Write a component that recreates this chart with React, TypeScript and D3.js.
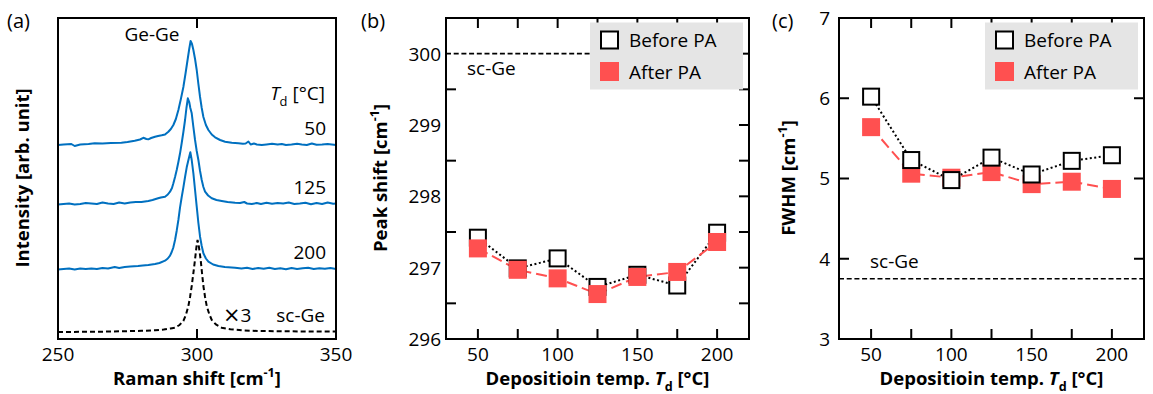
import React, { useEffect, useRef } from 'react';
import * as d3 from 'd3';

// panel (a): Raman spectra, [shift cm-1, intensity above its own baseline]
const spec50 = [
  [250, 0], [252, 0.05], [254.8, 0.1], [256, -0.1], [258, 0.05], [261, 0.1], [263.2, 0.17], [266, 0.15],
  [269, 0.2], [272.8, 0.23], [275, 0.3], [277.6, 0.43], [279.5, 0.55], [280.7, 0.72], [281.8, 0.6],
  [282.5, 0.57], [283.5, 0.7], [284.9, 0.83], [286, 0.9], [287.3, 0.97], [288.5, 1.05], [289.7, 1.33],
  [290.6, 1.6], [291.5, 2.0], [292.4, 2.6], [293.3, 3.5], [294.2, 4.6], [295.1, 5.8], [295.9, 7.2],
  [296.6, 8.5], [297.2, 9.6], [297.7, 10.4], [298.2, 10.1], [298.7, 9.5], [299.3, 8.6], [299.9, 7.5],
  [300.5, 6.1], [301.1, 4.8], [301.7, 3.7], [302.3, 2.8], [303.2, 2.0], [304.1, 1.5], [305.3, 1.05],
  [306.5, 0.77], [308.3, 0.5], [310.1, 0.33], [312.5, 0.22], [314.9, 0.17], [316.5, 0.12], [317.5, 0.15],
  [318.5, 0.35], [319.3, 0.05], [320.5, 0.15], [321.5, 0.05], [323.3, 0], [325, 0.05], [327, 0.12],
  [329, 0.05], [330.5, 0.1], [332, 0], [334, 0.05], [336, 0.12], [337.7, 0.05], [339.5, 0],
  [341.3, 0.15], [343, 0.02], [345, 0.05], [347, 0.1], [350, 0],
];
const spec125 = [
  [250, -0.05], [252, 0], [254, 0.05], [256, -0.05], [258, 0], [260, 0.1], [262, 0.05], [264, 0],
  [266, 0.15], [268, 0.05], [270, 0], [272, 0.15], [274, 0.05], [276, 0.15], [278, 0.2], [280, 0.2],
  [282.5, 0.3], [284, 0.4], [286, 0.57], [287, 0.65], [288.5, 0.73], [289.5, 0.95], [290.3, 1.23],
  [291, 1.6], [291.5, 2.07], [292.1, 2.7], [292.7, 3.4], [293.3, 4.2], [293.9, 5.07], [294.5, 6.1],
  [295.1, 7.2], [295.7, 8.4], [296.2, 9.6], [296.7, 10.57], [297.2, 10.2], [297.6, 9.6], [298.1, 9.07],
  [298.7, 7.7], [299.3, 6.4], [299.9, 5.3], [300.5, 4.4], [301.1, 3.3], [301.7, 2.4], [302.3, 1.7],
  [302.9, 1.23], [304, 0.85], [305.3, 0.57], [307, 0.4], [308.9, 0.3], [311, 0.2], [313.7, 0.13],
  [315.5, 0.1], [317, 0.2], [318, 0.05], [319.7, 0], [321.5, 0.1], [323, 0], [325, 0.12], [327, 0.02],
  [329, 0.1], [331, 0.05], [333, 0.15], [335, 0], [337, 0.05], [339, 0.12], [341, -0.02], [343, 0.1],
  [345, 0], [347, 0.15], [349, 0.02], [350, 0.05],
];
const spec200 = [
  [250, -0.05], [252, 0], [254, 0.05], [256, -0.05], [258, 0.05], [260, 0], [262, 0.05], [264, 0],
  [266, 0.1], [268, 0.05], [270.4, 0.2], [272, 0.1], [274, 0.2], [276, 0.25], [278.8, 0.3], [280.5, 0.35],
  [282.5, 0.4], [284.9, 0.5], [286.5, 0.6], [288.5, 0.83], [289.5, 1.05], [290.3, 1.33], [290.9, 1.7],
  [291.5, 2.17], [292.1, 2.9], [292.7, 3.83], [293.3, 4.9], [293.9, 6.17], [294.5, 7.2], [295.1, 8.17],
  [295.7, 9.2], [296.3, 10.17], [297, 11.0], [297.6, 11.67], [298.1, 10.9], [298.7, 9.57], [299.3, 7.9],
  [299.9, 6.23], [300.5, 4.6], [301.1, 3.23], [301.7, 2.3], [302.3, 1.57], [303.2, 1.05], [304.1, 0.73],
  [305.8, 0.45], [307.7, 0.3], [310, 0.2], [313.7, 0.13], [316, 0.05], [318, 0.12], [320, 0], [322, 0.1],
  [324, 0.02], [326, 0.12], [328, 0], [330, 0.08], [332, -0.02], [334, 0.1], [336, 0], [338, 0.08],
  [340, 0.12], [342, 0], [344, 0.08], [346, 0.02], [348, 0.1], [350, 0],
];
const specScGe = [
  [250, 0], [260, 0.02], [265, 0.03], [272.9, 0.07], [280, 0.12], [284.9, 0.17], [288, 0.25], [290.5, 0.35],
  [292.1, 0.43], [293.7, 0.7], [295.1, 1.1], [296, 1.7], [296.9, 2.6], [297.5, 3.5], [298.1, 4.6],
  [298.7, 5.9], [299.3, 7.27], [299.8, 8.5], [300.2, 9.2], [300.7, 8.5], [301.3, 7.27], [301.8, 5.9],
  [302.3, 4.6], [302.9, 3.5], [303.5, 2.6], [304.4, 1.8], [305.3, 1.2], [306.8, 0.75], [308.9, 0.43],
  [312, 0.27], [316.1, 0.17], [322, 0.1], [333, 0.07], [340, 0.05], [350, 0.04],
];
const spectra = [spec50, spec125, spec200];
const spectraLabels = ['50', '125', '200'];
const spectraOffsets = [19.4, 13.5, 7.0];
const scGeOffset = 0.7;
const ramanTicks = [250, 300, 350];

// panels (b) and (c)
const temps = [50, 75, 100, 125, 150, 175, 200];
const tempTicks = [50, 75, 100, 125, 150, 175, 200];
const tempLabels = [50, 100, 150, 200];
const peakBefore = [297.42, 296.99, 297.13, 296.73, 296.9, 296.75, 297.49];
const peakAfter = [297.27, 296.97, 296.85, 296.63, 296.87, 296.94, 297.36];
const peakTicks = [296, 297, 298, 299, 300];
const peakMinor = [296.5, 297.5, 298.5, 299.5];
const fwhmBefore = [6.02, 5.23, 4.98, 5.26, 5.05, 5.22, 5.29];
const fwhmAfter = [5.64, 5.06, 5.01, 5.08, 4.93, 4.96, 4.87];
const fwhmTicks = [3, 4, 5, 6, 7];
const scGePeak = 300;
const scGeFwhm = 3.75;

const FONT = "'Open Sans', sans-serif";
const BLUE = '#0070c0';
const RED = '#ff5050';
const TICK = 10;

type Part = { t: string; it?: boolean; sub?: boolean; sup?: boolean; sym?: boolean };

function rich(sel: any, parts: Part[], size: number) {
  let shift = 0;
  parts.forEach(p => {
    const target = p.sub ? size * 0.3 : p.sup ? -size * 0.45 : 0;
    const ts = sel.append('tspan').text(p.t).attr('dy', target - shift);
    shift = target;
    if (p.sub || p.sup) ts.attr('font-size', size * 0.68);
    if (p.sym) ts.attr('font-family', "'DejaVu Sans', sans-serif").attr('font-size', size * 1.1);
    if (p.it) ts.attr('font-style', 'italic');
  });
}

const App = () => {
  const svgRef = useRef<SVGSVGElement>(null);

  useEffect(() => {
    const svg = d3.select(svgRef.current);
    svg.selectAll('*').remove();
    svg.attr('font-family', FONT);

    const top = 18, bottom = 339;
    const lblSize = 19, titleSize = 18.5;

    const frame = (x0: number, x1: number) =>
      svg.append('rect')
        .attr('x', x0).attr('y', top)
        .attr('width', x1 - x0).attr('height', bottom - top)
        .attr('fill', 'none').attr('stroke', '#000').attr('stroke-width', 2);

    const vTicks = (xs: number[], x: any) => {
      xs.forEach(v => {
        svg.append('line').attr('x1', x(v)).attr('x2', x(v)).attr('y1', top).attr('y2', top + TICK)
          .attr('stroke', '#000').attr('stroke-width', 2);
        svg.append('line').attr('x1', x(v)).attr('x2', x(v)).attr('y1', bottom).attr('y2', bottom - TICK)
          .attr('stroke', '#000').attr('stroke-width', 2);
      });
    };

    const hTick = (y: number, xFrom: number, dir: number) =>
      svg.append('line').attr('x1', xFrom).attr('x2', xFrom + dir * TICK).attr('y1', y).attr('y2', y)
        .attr('stroke', '#000').attr('stroke-width', 2);

    const xLabels = (vals: number[], x: any) =>
      vals.forEach(v => {
        svg.append('text').attr('x', x(v)).attr('y', 361).attr('text-anchor', 'middle')
          .attr('font-size', lblSize).text(v);
      });

    const xTitle = (cx: number, parts: Part[]) => {
      const t = svg.append('text').attr('x', cx).attr('y', 385).attr('text-anchor', 'middle')
        .attr('font-size', titleSize).attr('font-weight', 'bold');
      rich(t, parts, titleSize);
    };

    const yTitle = (cx: number, parts: Part[]) => {
      const t = svg.append('text').attr('transform', `translate(${cx},178) rotate(-90)`)
        .attr('text-anchor', 'middle').attr('font-size', titleSize).attr('font-weight', 'bold');
      rich(t, parts, titleSize);
    };

    const panelLabel = (x: number, s: string) =>
      svg.append('text').attr('x', x).attr('y', 28).attr('font-size', 20).text(s);

    const tempTitle: Part[] = [{ t: 'Depositioin temp. ' }, { t: 'T', it: true }, { t: 'd', sub: true }, { t: ' [°C]' }];

    // ---------- (a) ----------
    const xa = d3.scaleLinear().domain([250, 350]).range([58, 336]);
    const ya = d3.scaleLinear().domain([0, 32.1]).range([bottom, top]);
    const line = d3.line<number[]>().x(d => xa(d[0])).y(d => ya(d[1]));

    spectra.forEach((s, i) => {
      svg.append('path')
        .attr('d', line(s.map(p => [p[0], p[1] + spectraOffsets[i]])))
        .attr('fill', 'none').attr('stroke', BLUE).attr('stroke-width', 2)
        .attr('stroke-linejoin', 'round');
      svg.append('text').attr('x', 326).attr('y', ya(spectraOffsets[i]) - 10)
        .attr('text-anchor', 'end').attr('font-size', lblSize).text(spectraLabels[i]);
    });
    svg.append('path')
      .attr('d', line(specScGe.map(p => [p[0], p[1] + scGeOffset])))
      .attr('fill', 'none').attr('stroke', '#000').attr('stroke-width', 2)
      .attr('stroke-dasharray', '5,3');

    frame(58, 336);
    vTicks([300], xa);
    xLabels(ramanTicks, xa);
    xTitle(xa(300), [{ t: 'Raman shift [cm' }, { t: '-1', sup: true }, { t: ']' }]);
    yTitle(29, [{ t: 'Intensity [arb. unit]' }]);
    panelLabel(7, '(a)');

    svg.append('text').attr('x', xa(283.8)).attr('y', 41).attr('text-anchor', 'middle')
      .attr('font-size', lblSize).text('Ge-Ge');
    const td = svg.append('text').attr('x', 325).attr('y', 100).attr('text-anchor', 'end')
      .attr('font-size', lblSize);
    rich(td, [{ t: 'T', it: true }, { t: 'd', sub: true }, { t: ' [°C]' }], lblSize);
    const x3 = svg.append('text').attr('x', 223).attr('y', 322).attr('font-size', lblSize);
    rich(x3, [{ t: '×', sym: true }, { t: '3' }], lblSize);
    svg.append('text').attr('x', 325).attr('y', 322).attr('text-anchor', 'end')
      .attr('font-size', lblSize).text('sc-Ge');

    // ---------- (b) & (c) shared pieces ----------
    const legend = (right: number) => {
      const bx = right - 159, by = top + 4.5;
      svg.append('rect').attr('x', bx).attr('y', by).attr('width', 153).attr('height', 67)
        .attr('fill', '#e5e5e5');
      svg.append('rect').attr('x', bx + 11).attr('y', by + 9).attr('width', 17).attr('height', 17)
        .attr('fill', '#fff').attr('stroke', '#000').attr('stroke-width', 2);
      svg.append('rect').attr('x', bx + 10).attr('y', by + 39.5).attr('width', 19).attr('height', 19)
        .attr('fill', RED);
      svg.append('text').attr('x', bx + 39).attr('y', by + 24).attr('font-size', lblSize).text('Before PA');
      svg.append('text').attr('x', bx + 39).attr('y', by + 56).attr('font-size', lblSize).text('After PA');
    };

    const series = (x: any, y: any, vals: number[], kind: 'before' | 'after', mode: 'line' | 'marks') => {
      const pts = temps.map((t, i) => [x(t), y(vals[i])]);
      if (mode === 'line') {
        svg.append('path').attr('d', d3.line()(pts as [number, number][]))
          .attr('fill', 'none')
          .attr('stroke', kind === 'before' ? '#000' : RED)
          .attr('stroke-width', 2)
          .attr('stroke-dasharray', kind === 'before' ? '2,2.5' : '11,5');
      } else {
        const s = kind === 'before' ? 16 : 18;
        pts.forEach(p => {
          const r = svg.append('rect').attr('x', p[0] - s / 2).attr('y', p[1] - s / 2)
            .attr('width', s).attr('height', s);
          if (kind === 'before') r.attr('fill', '#fff').attr('stroke', '#000').attr('stroke-width', 2);
          else r.attr('fill', RED);
        });
      }
    };

    // ---------- (b) ----------
    const bL = 446, bR = 749;
    const xb = d3.scaleLinear().domain([30, 220]).range([bL, bR]);
    const yb = d3.scaleLinear().domain([296, 300.5]).range([bottom, top]);

    svg.append('line').attr('x1', bL).attr('x2', bR - 159).attr('y1', yb(scGePeak)).attr('y2', yb(scGePeak))
      .attr('stroke', '#000').attr('stroke-width', 1.6).attr('stroke-dasharray', '5,2.7');
    svg.append('text').attr('x', 467).attr('y', 75).attr('font-size', lblSize).text('sc-Ge');

    series(xb, yb, peakBefore, 'before', 'line');
    series(xb, yb, peakAfter, 'after', 'line');
    series(xb, yb, peakBefore, 'before', 'marks');
    series(xb, yb, peakAfter, 'after', 'marks');

    frame(bL, bR);
    vTicks(tempTicks, xb);
    peakMinor.forEach(v => hTick(yb(v), bL, 1));
    [...peakTicks, ...peakMinor].forEach(v => hTick(yb(v), bR, -1));
    legend(bR);
    xLabels(tempLabels, xb);
    peakTicks.forEach(v => {
      svg.append('text').attr('x', bL - 5).attr('y', yb(v)).attr('dy', '0.36em')
        .attr('text-anchor', 'end').attr('font-size', lblSize).text(v);
    });
    xTitle(xb(125), tempTitle);
    yTitle(387, [{ t: 'Peak shift [cm' }, { t: '-1', sup: true }, { t: ']' }]);
    panelLabel(361, '(b)');

    // ---------- (c) ----------
    const cL = 839, cR = 1144;
    const xc = d3.scaleLinear().domain([30, 220]).range([cL, cR]);
    const yc = d3.scaleLinear().domain([3, 7]).range([bottom, top]);

    svg.append('line').attr('x1', cL).attr('x2', cR).attr('y1', yc(scGeFwhm)).attr('y2', yc(scGeFwhm))
      .attr('stroke', '#000').attr('stroke-width', 1.6).attr('stroke-dasharray', '5,2.7');
    svg.append('text').attr('x', 870).attr('y', 268).attr('font-size', lblSize).text('sc-Ge');

    series(xc, yc, fwhmAfter, 'after', 'line');
    series(xc, yc, fwhmBefore, 'before', 'line');
    series(xc, yc, fwhmAfter, 'after', 'marks');
    series(xc, yc, fwhmBefore, 'before', 'marks');

    frame(cL, cR);
    vTicks(tempTicks, xc);
    fwhmTicks.slice(1, -1).forEach(v => { hTick(yc(v), cL, 1); hTick(yc(v), cR, -1); });
    legend(cR);
    xLabels(tempLabels, xc);
    fwhmTicks.forEach(v => {
      svg.append('text').attr('x', cL - 9).attr('y', yc(v)).attr('dy', '0.36em')
        .attr('text-anchor', 'end').attr('font-size', lblSize).text(v);
    });
    xTitle(xc(125), tempTitle);
    yTitle(795, [{ t: 'FWHM [cm' }, { t: '-1', sup: true }, { t: ']' }]);
    panelLabel(772, '(c)');
  }, []);

  return (
    <div>
      <svg ref={svgRef} width={1153} height={394}
        style={{ position: 'absolute', left: 0, top: 0, background: '#fff' }} />
    </div>
  );
};

export default App;
